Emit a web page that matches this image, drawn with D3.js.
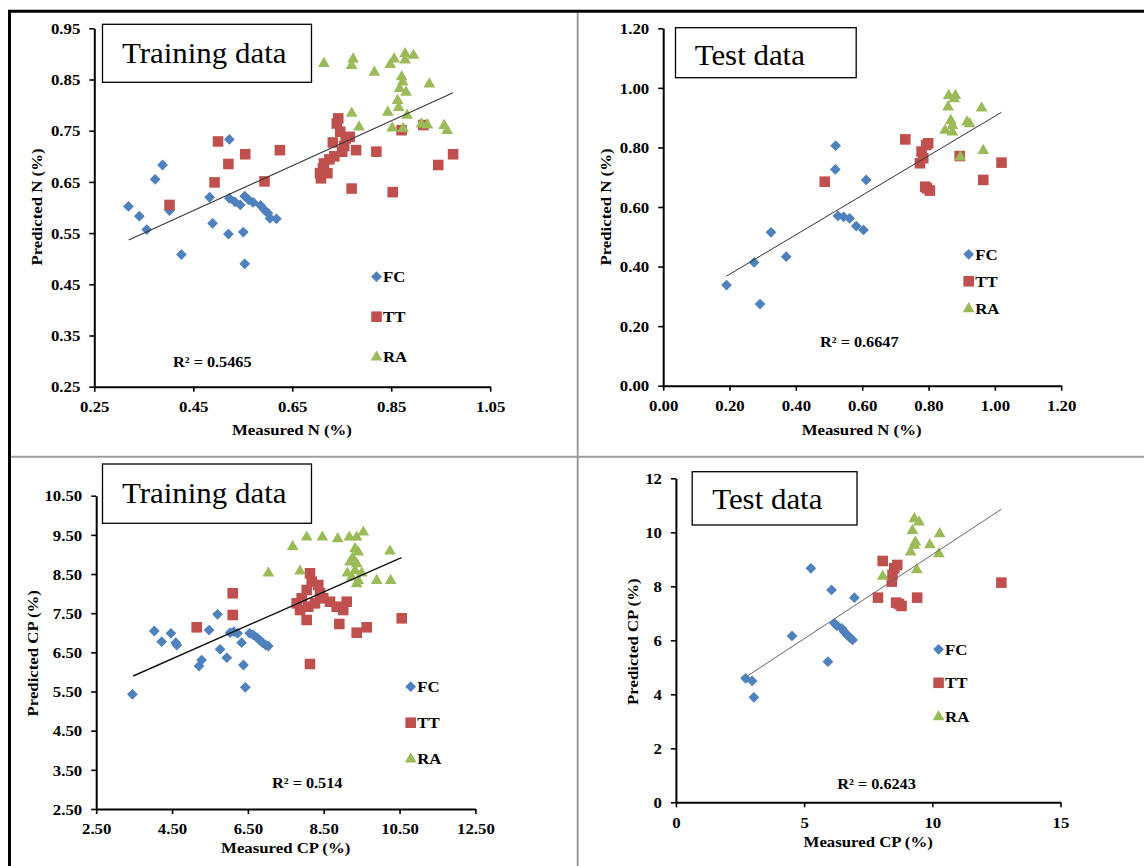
<!DOCTYPE html>
<html><head><meta charset="utf-8">
<script src="https://cdn.jsdelivr.net/npm/d3@7"></script>
<style>html,body{margin:0;padding:0;background:#fff;}svg{display:block;}</style>
</head><body>
<svg id="c" width="1144" height="866"></svg>
<script>
// ---------- DATA ----------
const seriesNames = ["FC", "TT", "RA"];

// Panel A: N, training data
const nTrainXTicks = [0.25, 0.45, 0.65, 0.85, 1.05];
const nTrainYTicks = [0.25, 0.35, 0.45, 0.55, 0.65, 0.75, 0.85, 0.95];
const nTrainFC = [[0.319,0.602],[0.341,0.583],[0.356,0.557],[0.373,0.655],[0.388,0.683],[0.402,0.594],[0.426,0.508],[0.483,0.620],[0.489,0.569],[0.521,0.548],[0.523,0.733],[0.523,0.618],[0.534,0.611],[0.545,0.605],[0.551,0.552],[0.554,0.490],[0.554,0.622],[0.562,0.615],[0.571,0.610],[0.586,0.604],[0.594,0.595],[0.601,0.589],[0.605,0.579],[0.618,0.578]];
const nTrainTT = [[0.402,0.605],[0.493,0.649],[0.500,0.729],[0.521,0.685],[0.555,0.704],[0.594,0.651],[0.625,0.712],[0.706,0.667],[0.708,0.657],[0.714,0.686],[0.712,0.676],[0.721,0.667],[0.725,0.694],[0.732,0.727],[0.735,0.700],[0.740,0.764],[0.743,0.774],[0.747,0.748],[0.751,0.709],[0.755,0.720],[0.758,0.735],[0.766,0.738],[0.770,0.637],[0.779,0.712],[0.820,0.709],[0.853,0.630],[0.871,0.751],[0.915,0.761],[0.945,0.683],[0.975,0.704]];
const nTrainRA = [[0.714,0.882],[0.770,0.878],[0.773,0.891],[0.770,0.785],[0.785,0.758],[0.816,0.865],[0.843,0.787],[0.848,0.880],[0.856,0.891],[0.852,0.756],[0.863,0.810],[0.867,0.833],[0.871,0.856],[0.873,0.846],[0.865,0.796],[0.878,0.901],[0.878,0.889],[0.880,0.826],[0.882,0.781],[0.874,0.755],[0.895,0.898],[0.911,0.764],[0.923,0.762],[0.927,0.842],[0.957,0.761],[0.963,0.751]];
const nTrainTrend = [[0.3195,0.5366],[0.975,0.8243]];
const nTrainR2 = "R² = 0.5465";

// Panel B: N, test data
const nTestXTicks = [0, 0.2, 0.4, 0.6, 0.8, 1.0, 1.2];
const nTestYTicks = [0, 0.2, 0.4, 0.6, 0.8, 1.0, 1.2];
const nTestFC = [[0.191,0.338],[0.274,0.414],[0.292,0.274],[0.325,0.515],[0.371,0.433],[0.520,0.806],[0.519,0.726],[0.527,0.570],[0.544,0.567],[0.562,0.562],[0.582,0.536],[0.604,0.523],[0.612,0.691]];
const nTestTT = [[0.487,0.685],[0.730,0.827],[0.774,0.747],[0.779,0.786],[0.784,0.764],[0.793,0.808],[0.799,0.814],[0.790,0.668],[0.795,0.663],[0.804,0.655],[0.894,0.771],[0.965,0.691],[1.020,0.749]];
const nTestRA = [[0.861,0.976],[0.881,0.976],[0.877,0.965],[0.859,0.937],[0.867,0.892],[0.872,0.875],[0.850,0.859],[0.872,0.853],[0.916,0.887],[0.924,0.881],[0.960,0.934],[0.965,0.791],[0.896,0.769]];
const nTestTrend = [[0.191,0.368],[1.020,0.918]];
const nTestR2 = "R² = 0.6647";

// Panel C: CP, training data
const cpTrainXTicks = [2.5, 4.5, 6.5, 8.5, 10.5, 12.5];
const cpTrainYTicks = [2.5, 3.5, 4.5, 5.5, 6.5, 7.5, 8.5, 9.5, 10.5];
const cpTrainFC = [[3.456,5.428],[4.032,7.045],[4.227,6.772],[4.471,6.985],[4.598,6.747],[4.627,6.687],[5.212,6.151],[5.280,6.304],[5.476,7.070],[5.700,7.470],[5.768,6.577],[5.944,6.364],[6.032,7.002],[6.129,7.028],[6.227,6.985],[6.334,6.747],[6.383,6.177],[6.432,5.606],[6.549,6.985],[6.646,6.943],[6.744,6.874],[6.822,6.798],[6.890,6.747],[6.968,6.687],[7.037,6.662]];
const cpTrainTT = [[5.150,7.140],[6.100,8.008],[6.100,7.454],[8.138,8.518],[8.183,8.304],[8.051,8.092],[8.357,8.220],[8.402,8.008],[7.919,7.880],[7.787,7.752],[7.875,7.581],[8.094,7.666],[8.270,7.752],[8.489,7.880],[8.666,7.793],[8.842,7.666],[9.016,7.581],[9.106,7.793],[8.051,7.326],[8.138,6.202],[8.911,7.224],[9.370,7.001],[9.634,7.140],[10.557,7.369]];
const cpTrainRA = [[7.039,8.534],[7.682,9.216],[7.875,8.585],[8.051,9.453],[8.463,9.453],[8.869,9.412],[9.175,9.453],[9.370,9.453],[9.544,9.581],[9.325,9.157],[9.412,9.070],[9.264,8.927],[9.193,8.815],[9.370,8.774],[9.325,8.603],[9.122,8.534],[9.502,8.534],[9.238,8.432],[9.412,8.347],[9.370,8.263],[9.897,8.347],[10.266,8.347],[10.248,9.096]];
const cpTrainTrend = [[3.476,5.896],[10.549,8.917]];
const cpTrainR2 = "R² = 0.514";

// Panel D: CP, test data
const cpTestXTicks = [0, 5, 10, 15];
const cpTestYTicks = [0, 2, 4, 6, 8, 10, 12];
const cpTestFC = [[2.717,4.593],[2.972,4.494],[3.042,3.889],[4.528,6.160],[5.264,8.667],[5.929,5.210],[6.070,7.864],[6.184,6.630],[6.283,6.543],[6.467,6.444],[6.566,6.321],[6.679,6.198],[6.778,6.111],[6.891,6.012],[6.962,7.580]];
const cpTestTT = [[7.882,7.580],[8.066,8.938],[8.419,8.173],[8.448,8.420],[8.519,8.667],[8.632,8.790],[8.589,7.395],[8.702,7.346],[8.801,7.272],[9.410,7.580],[12.693,8.136]];
const cpTestRA = [[8.066,8.383],[9.155,9.284],[9.226,10.086],[9.297,10.519],[9.481,10.395],[9.297,9.531],[9.339,9.654],[9.396,8.630],[9.905,9.556],[10.287,9.963],[10.259,9.222]];
const cpTestTrend = [[2.788,4.679],[12.693,10.852]];
const cpTestR2 = "R² = 0.6243";

// ---------- LAYOUT / STYLE ----------
const FONT = "'Liberation Serif','Times New Roman',Times,serif";
const SX = 1.12; // horizontal stretch of the original text
const colors = ["#4F81BD", "#C0504D", "#9BBB59"];

const panels = [
  { series:[nTrainFC,nTrainTT,nTrainRA], trend:nTrainTrend, r2:nTrainR2,
    xTicks:nTrainXTicks, yTicks:nTrainYTicks, fmt:d3.format(".2f"),
    xr:[94.3,490.2], yr:[386.7,28.3],
    box:[102.5,24.3,209,58], title:"Training data", tpos:[122,62.5],
    xTitle:"Measured N (%)", xtp:[292,430], yTitle:"Predicted N (%)", ytp:[37,207],
    leg:[376.5,276.7,40], r2pos:[173,361.7], trendColor:"#3a3a3a", trendW:1.1 },
  { series:[nTestFC,nTestTT,nTestRA], trend:nTestTrend, r2:nTestR2,
    xTicks:nTestXTicks, yTicks:nTestYTicks, fmt:d3.format(".2f"),
    xr:[663.2,1061.2], yr:[385.7,28.3],
    box:[675.5,27.7,180.7,50], title:"Test data", tpos:[694.7,64.5],
    xTitle:"Measured N (%)", xtp:[861.6,430], yTitle:"Predicted N (%)", ytp:[605.8,207],
    leg:[968.7,254.3,27], r2pos:[820,342.3], trendColor:"#333", trendW:1 },
  { series:[cpTrainFC,cpTrainTT,cpTrainRA], trend:cpTrainTrend, r2:cpTrainR2,
    xTicks:cpTrainXTicks, yTicks:cpTrainYTicks, fmt:d3.format(".2f"),
    xr:[96.2,475.4], yr:[809,495.7],
    box:[102.5,464,209,59.3], title:"Training data", tpos:[122,502.5],
    xTitle:"Measured CP (%)", xtp:[285.7,847.3], yTitle:"Predicted CP (%)", ytp:[32.6,653.3],
    leg:[410.7,686.7,36], r2pos:[272,783.3], trendColor:"#111", trendW:1.4 },
  { series:[cpTestFC,cpTestTT,cpTestRA], trend:cpTestTrend, r2:cpTestR2,
    xTicks:cpTestXTicks, yTicks:cpTestYTicks, fmt:d3.format("d"),
    xr:[675.9,1060.5], yr:[802.3,478.3],
    box:[692.2,471.7,164.8,53.3], title:"Test data", tpos:[712.2,509],
    xTitle:"Measured CP (%)", xtp:[868.2,841.7], yTitle:"Predicted CP (%)", ytp:[632.3,641.7],
    leg:[938.6,649.3,33.5], r2pos:[837.3,784.3], trendColor:"#666", trendW:1 }
];

const svg = d3.select("#c");
svg.append("rect").attr("width",1144).attr("height",866).attr("fill","#fff");

function stext(g, x, y, str, o = {}) {
  return g.append("text")
    .attr("transform", `translate(${x},${y})${o.rot ? " rotate(-90)" : ""} scale(${o.sx || SX},1)`)
    .attr("text-anchor", o.anchor || "start")
    .attr("dy", o.dy !== undefined ? o.dy : "0.35em")
    .attr("font-family", FONT)
    .attr("font-size", o.size || 15)
    .attr("font-weight", o.weight || "bold")
    .attr("fill", "#000")
    .text(str);
}

const symDiamond = d3.symbol().type(d3.symbolSquare).size(58);
const symSquare = d3.symbol().type(d3.symbolSquare).size(112);
const symTriangle = d3.symbol().type(d3.symbolTriangle).size(60);
function marker(g, i, x, y) {
  if (i === 0) return g.append("path").attr("d", symDiamond()).attr("transform", `translate(${x},${y}) rotate(45)`).attr("fill", colors[0]);
  if (i === 1) return g.append("path").attr("d", symSquare()).attr("transform", `translate(${x},${y})`).attr("fill", colors[1]);
  return g.append("path").attr("d", symTriangle()).attr("transform", `translate(${x},${y+0.5})`).attr("fill", colors[2]);
}

panels.forEach(p => {
  const g = svg.append("g");
  const x = d3.scaleLinear().domain(d3.extent(p.xTicks)).range(p.xr);
  const y = d3.scaleLinear().domain(d3.extent(p.yTicks)).range(p.yr);

  // title box
  g.append("rect").attr("x", p.box[0]).attr("y", p.box[1]).attr("width", p.box[2]).attr("height", p.box[3])
    .attr("fill", "#fff").attr("stroke", "#000").attr("stroke-width", 1.3);
  stext(g, p.tpos[0], p.tpos[1], p.title, { size: 30, weight: "normal", sx: 1.03, dy: "0" });

  // axes
  const xa = g.append("g").attr("transform", `translate(0,${p.yr[0]})`)
    .call(d3.axisBottom(x).tickValues(p.xTicks).tickFormat(p.fmt).tickSize(5).tickSizeOuter(0));
  const ya = g.append("g").attr("transform", `translate(${p.xr[0]},0)`)
    .call(d3.axisLeft(y).tickValues(p.yTicks).tickFormat(p.fmt).tickSize(5).tickSizeOuter(0));
  [xa, ya].forEach(a => {
    a.select(".domain").attr("stroke", "#000").attr("stroke-width", 2);
    a.selectAll(".tick line").attr("stroke", "#000").attr("stroke-width", 1.6);
    a.selectAll("text").attr("font-family", FONT).attr("font-size", 15).attr("font-weight", "bold").attr("fill", "#000");
  });
  xa.selectAll("text").attr("y", 20).attr("dy", "0.35em").attr("transform", `scale(${SX},1)`);
  ya.selectAll("text").attr("x", -14 / SX).attr("dy", "0.35em").attr("transform", `scale(${SX},1)`);

  // axis titles
  stext(g, p.xtp[0], p.xtp[1], p.xTitle, { anchor: "middle" });
  stext(g, p.ytp[0], p.ytp[1], p.yTitle, { anchor: "middle", rot: true });

  // points
  p.series.forEach((s, i) => {
    const sg = g.append("g");
    s.forEach(d => marker(sg, i, x(d[0]), y(d[1])));
  });

  // trend line
  g.append("line")
    .attr("x1", x(p.trend[0][0])).attr("y1", y(p.trend[0][1]))
    .attr("x2", x(p.trend[1][0])).attr("y2", y(p.trend[1][1]))
    .attr("stroke", p.trendColor).attr("stroke-width", p.trendW);

  // legend
  seriesNames.forEach((n, i) => {
    const ly = p.leg[1] + i * p.leg[2];
    marker(g, i, p.leg[0], ly);
    stext(g, p.leg[0] + 6.5, ly, n);
  });

  // R²
  stext(g, p.r2pos[0], p.r2pos[1], p.r2, { size: 14.5 });
});

// frame / table lines
svg.append("line").attr("x1", 577.7).attr("x2", 577.7).attr("y1", 12.5).attr("y2", 866).attr("stroke", "#9c9c9c").attr("stroke-width", 2);
svg.append("line").attr("x1", 10).attr("x2", 1144).attr("y1", 456.7).attr("y2", 456.7).attr("stroke", "#9c9c9c").attr("stroke-width", 2);
svg.append("line").attr("x1", 8).attr("x2", 1144).attr("y1", 11.3).attr("y2", 11.3).attr("stroke", "#000").attr("stroke-width", 3);
svg.append("line").attr("x1", 9.5).attr("x2", 9.5).attr("y1", 10).attr("y2", 866).attr("stroke", "#000").attr("stroke-width", 3);
</script>
</body></html>
